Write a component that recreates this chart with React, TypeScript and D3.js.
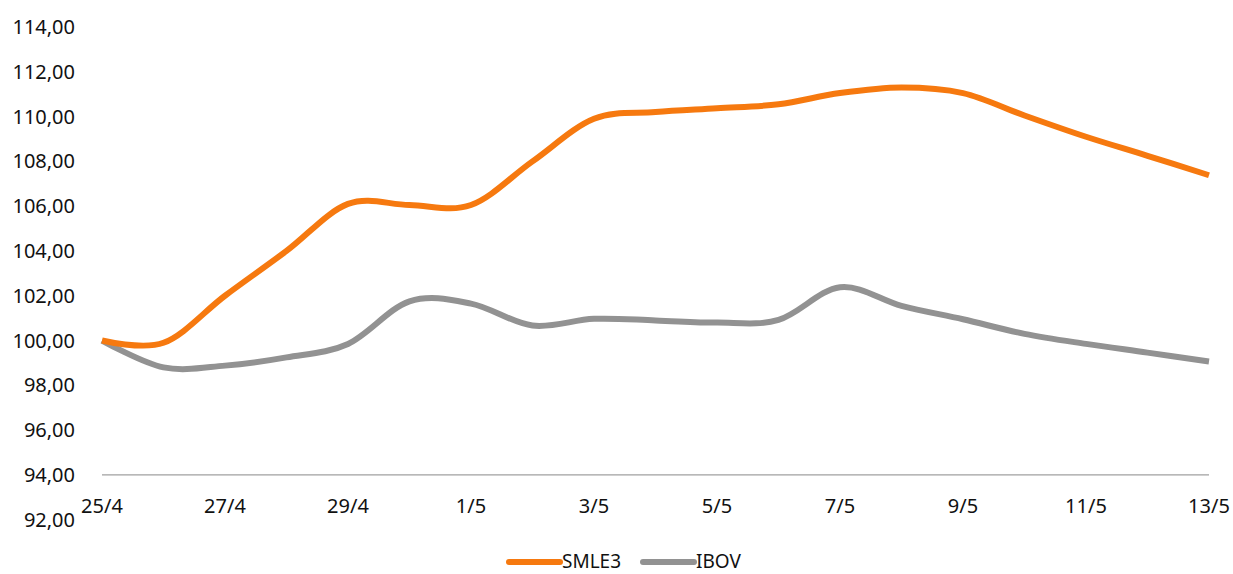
import React from "react";
import * as d3 from "d3";

const dates = [
  "25/4", "26/4", "27/4", "28/4", "29/4", "30/4",
  "1/5", "2/5", "3/5", "4/5", "5/5", "6/5", "7/5",
  "8/5", "9/5", "10/5", "11/5", "12/5", "13/5",
];

const smle3 = [
  100.0, 99.9, 102.0, 104.0, 106.1, 106.05,
  106.05, 108.0, 109.9, 110.2, 110.37, 110.55, 111.05,
  111.3, 111.05, 110.05, 109.1, 108.25, 107.38,
];

const ibov = [
  100.0, 98.8, 98.88, 99.25, 99.85, 101.75,
  101.65, 100.67, 100.97, 100.9, 100.8, 100.92, 102.38,
  101.55, 100.95, 100.3, 99.85, 99.46, 99.06,
];

const yTicks = [92, 94, 96, 98, 100, 102, 104, 106, 108, 110, 112, 114];
const xLabels = ["25/4", "27/4", "29/4", "1/5", "3/5", "5/5", "7/5", "9/5", "11/5", "13/5"];

const series = [
  { name: "SMLE3", values: smle3, color: "#F6790F" },
  { name: "IBOV", values: ibov, color: "#929292" },
];

const W = 1233;
const H = 574;
const font = "'Noto Sans', 'Open Sans', sans-serif";

export default function App() {
  const x = d3.scalePoint<string>().domain(dates).range([102, 1209]);
  const y = d3.scaleLinear().domain([92, 114]).range([519.7, 27]);

  const line = d3
    .line<number>()
    .x((_, i) => x(dates[i]) as number)
    .y(d => y(d))
    .curve(d3.curveCardinal.tension(0));

  const fmt = (v: number) => v.toFixed(2).replace(".", ",");

  return (
    <svg
      width={W}
      height={H}
      style={{ position: "absolute", left: 0, top: 0, background: "#fff" }}
      fontFamily={font}
    >
      {/* y labels */}
      {yTicks.map(t => (
        <text
          key={t}
          x={75}
          y={y(t)}
          dy="0.35em"
          textAnchor="end"
          fontSize={20}
          fill="#111"
        >
          {fmt(t)}
        </text>
      ))}

      {/* category axis line sits at 94 */}
      <line x1={102} x2={1209} y1={y(94)} y2={y(94)} stroke="#a0a0a0" strokeWidth={1.3} />

      {/* x labels */}
      {xLabels.map(d => (
        <text
          key={d}
          x={x(d)}
          y={506}
          dy="0.35em"
          textAnchor="middle"
          fontSize={20}
          fill="#111"
        >
          {d}
        </text>
      ))}

      {/* lines */}
      {series.map(s => (
        <path
          key={s.name}
          d={line(s.values) || ""}
          fill="none"
          stroke={s.color}
          strokeWidth={6}
          strokeLinejoin="round"
        />
      )).reverse()}

      {/* legend */}
      {series.map((s, i) => {
        const lx = i === 0 ? 509 : 643;
        return (
          <g key={s.name}>
            <line x1={lx} x2={lx + 51} y1={562} y2={562} stroke={s.color} strokeWidth={6} strokeLinecap="round" />
            <text x={lx + 53} y={568} fontSize={19} fill="#111">
              {s.name}
            </text>
          </g>
        );
      })}
    </svg>
  );
}
